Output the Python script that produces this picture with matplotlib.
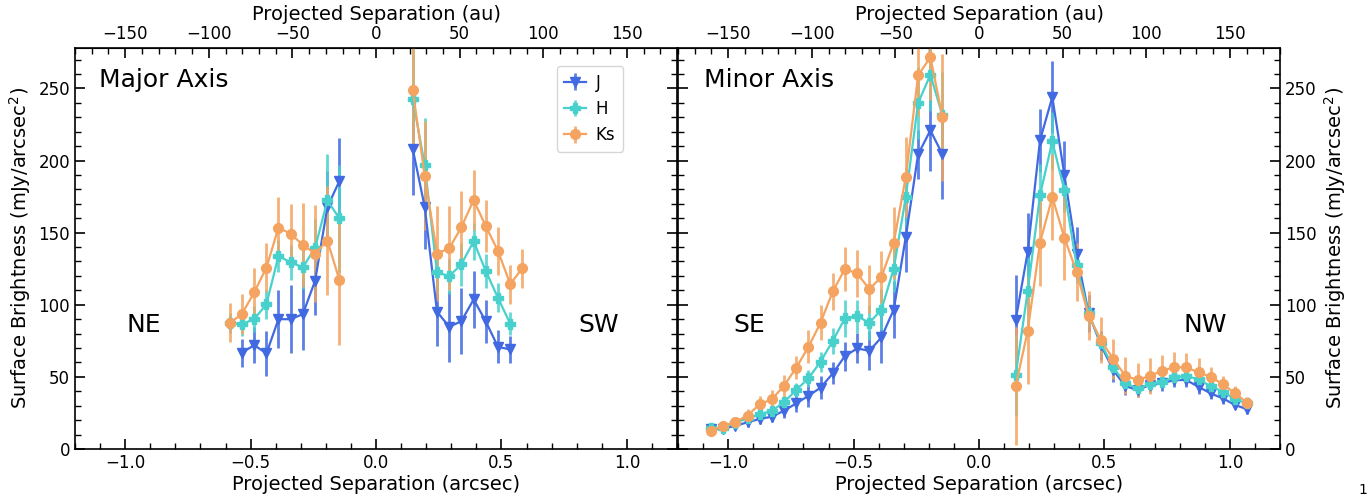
import numpy as np
import matplotlib
matplotlib.use("Agg")
import matplotlib.pyplot as plt
from matplotlib.ticker import MultipleLocator

# separations of the annuli (arcsec), same on both sides of the star
sep_major = [0.146, 0.194, 0.243, 0.292, 0.340, 0.389, 0.437, 0.486, 0.535, 0.583]
sep_minor = [0.146, 0.194, 0.243, 0.292, 0.340, 0.389, 0.437, 0.486, 0.535, 0.583,
             0.632, 0.680, 0.729, 0.778, 0.826, 0.875, 0.923, 0.972, 1.021, 1.069]
AU_PER_ARCSEC = 150.0

# --- Major axis, NE side (inner -> outer) ---
ne_J = [185.8, 167.8, 116.6, 93.5, 90, 90, 66.3, 72, 66.7]
ne_J_err = [30, 25, 24, 25, 23.6, 20, 15.5, 12.7, 9.7]
ne_H = [159.8, 172.4, 139.4, 126, 129.3, 133.9, 100.4, 90, 86.6, 87.5]
ne_H_err = [37, 32, 20, 15, 12, 11, 10, 9, 8, 7]
ne_Ks = [117, 144.5, 135.5, 141.5, 149.1, 153.5, 125.8, 108.5, 93.5, 87.5]
ne_Ks_err = [45, 37.5, 33.7, 29, 21, 21, 17.3, 16.8, 13.9, 13.4]

# --- Major axis, SW side ---
sw_J = [208.2, 167.8, 95.1, 84.7, 88.6, 103.7, 88.6, 70.8, 69]
sw_J_err = [32, 29, 24, 24.5, 23, 20, 15, 11.5, 9.5]
sw_H = [242.9, 196.7, 122.4, 119.8, 128.1, 144, 123.5, 104.8, 86.8]
sw_H_err = [38, 33, 14, 12, 15, 13, 12, 10, 8]
sw_Ks = [249.1, 189.5, 135.5, 139.2, 153.7, 172.6, 154.6, 137.3, 114.3, 125.3]
sw_Ks_err = [40, 38, 33, 29, 25, 21, 18, 16.7, 13.5, 13.5]

# --- Minor axis, SE side ---
se_J = [204.3, 220.9, 204.3, 147, 96.7, 77.4, 68.1, 69.7, 64.4, 52.4,
        42.5, 36.9, 31.6, 26.5, 22.4, 20.8, 18.5, 16.1, 13.9, 13.9]
se_J_err = [31, 28, 17, 24, 20, 18, 13.5, 10.4, 10, 7.6, 8, 8, 6, 5, 4, 3.5, 3, 2.5, 2, 2]
se_H = [231.3, 259.5, 239.8, 174.7, 125.1, 96.7, 87.5, 92.1, 90.5, 75,
        60.5, 49, 40.9, 32.3, 26.5, 24, 21.3, 18.2, 14.3, 14.3]
se_H_err = [30, 25, 25, 20, 16, 14, 12, 11.5, 12.7, 9, 7, 6, 5, 4, 3.5, 3, 2.5, 2.5, 2, 2]
se_Ks = [230.1, 271.7, 259, 188.6, 143.1, 119.3, 110.8, 121.7, 124.7, 109.2,
         87.5, 70.8, 56.3, 43.8, 34.4, 31, 23.1, 18.9, 15.9, 12.7]
se_Ks_err = [44, 30, 28, 28, 25, 18, 16.6, 16, 15, 13, 12, 11.5, 8, 7.5, 6.3, 6, 4.5, 3.5, 3, 3]

# --- Minor axis, NW side ---
nw_J = [89.3, 136.6, 214, 244, 190.2, 135.5, 94, 72, 54.7, 43.6,
        40.9, 44.3, 45.5, 47.8, 47.8, 43.1, 38.6, 35.1, 30.5, 27.5]
nw_J_err = [31, 27, 22, 25, 23.5, 18.5, 13, 10, 8, 6, 5, 5, 5, 5, 5, 5, 4, 4, 3, 3]
nw_H = [51.2, 109.6, 175.9, 213.3, 179.4, 127.4, 94, 73.2, 56.6, 45.5,
        42, 44.8, 46.6, 49.7, 50.6, 48.3, 43.6, 39.7, 34.4, 31.6]
nw_H_err = [28, 25, 22, 20, 15, 12, 9, 7, 6, 5, 4, 4, 4, 4, 4, 4, 3.5, 3, 3, 2.5]
nw_Ks = [43.6, 81.9, 143.1, 174.7, 146.6, 122.8, 92.3, 75.5, 62.3, 50.8,
         47.8, 50.6, 54.2, 56.6, 56.6, 53.1, 50.1, 44.8, 38.6, 32.1]
nw_Ks_err = [41, 37, 30, 29.5, 29.5, 20, 17, 16, 14, 13, 11.5, 12.7, 11, 10.4, 10, 10, 7, 6, 5, 4]

bands = ["J", "H", "Ks"]
colors = {"J": "royalblue", "H": "mediumturquoise", "Ks": "sandybrown"}
markers = {"J": "v", "H": "P", "Ks": "o"}

plt.rcParams["font.family"] = "DejaVu Sans"

fig = plt.figure(figsize=(13.67, 5.0), dpi=100)
ax1 = fig.add_axes([0.0549, 0.102, 0.4404, 0.802])
ax2 = fig.add_axes([0.4960, 0.102, 0.4404, 0.802])


def draw_side(ax, sep, vals, errs, band, sign, label=None):
    n = len(vals)
    x = sign * np.array(sep[:n])
    eb = ax.errorbar(x, vals, yerr=errs, color=colors[band], marker=markers[band],
                     ms=7, lw=1.6, elinewidth=2.0, capsize=0, label=label)
    for c in eb[2]:
        c.set_alpha(0.85)


def style_axis(ax, side):
    ax.set_xlim(-1.2, 1.2)
    ax.set_ylim(0, 278)
    ax.xaxis.set_major_locator(MultipleLocator(0.5))
    ax.xaxis.set_minor_locator(MultipleLocator(0.1))
    ax.yaxis.set_major_locator(MultipleLocator(50))
    ax.yaxis.set_minor_locator(MultipleLocator(10))
    ax.tick_params(which="both", direction="in", top=False, right=True, left=True,
                   labelsize=12)
    ax.tick_params(which="major", length=7, width=1.2)
    ax.tick_params(which="minor", length=4, width=1.0)
    ax.set_xlabel("Projected Separation (arcsec)", fontsize=14, labelpad=2)
    if side == "right":
        ax.yaxis.tick_right()
        ax.yaxis.set_label_position("right")
        ax.tick_params(which="both", left=True, right=True)
    ax.set_ylabel("Surface Brightness (mJy/arcsec$^2$)", fontsize=14)
    sec = ax.secondary_xaxis("top", functions=(lambda a: a * AU_PER_ARCSEC,
                                               lambda b: b / AU_PER_ARCSEC))
    sec.xaxis.set_major_locator(MultipleLocator(50))
    sec.xaxis.set_minor_locator(MultipleLocator(10))
    sec.tick_params(which="both", direction="in", labelsize=12)
    sec.tick_params(which="major", length=7, width=1.2)
    sec.tick_params(which="minor", length=4, width=1.0)
    sec.set_xlabel("Projected Separation (au)", fontsize=14, labelpad=4)
    for s in ax.spines.values():
        s.set_linewidth(1.2)


major = {"J": (ne_J, ne_J_err, sw_J, sw_J_err),
         "H": (ne_H, ne_H_err, sw_H, sw_H_err),
         "Ks": (ne_Ks, ne_Ks_err, sw_Ks, sw_Ks_err)}
minor = {"J": (se_J, se_J_err, nw_J, nw_J_err),
         "H": (se_H, se_H_err, nw_H, nw_H_err),
         "Ks": (se_Ks, se_Ks_err, nw_Ks, nw_Ks_err)}

for b in bands:
    v1, e1, v2, e2 = major[b]
    draw_side(ax1, sep_major, v1, e1, b, -1, label=b)
    draw_side(ax1, sep_major, v2, e2, b, 1)
    v1, e1, v2, e2 = minor[b]
    draw_side(ax2, sep_minor, v1, e1, b, -1)
    draw_side(ax2, sep_minor, v2, e2, b, 1)

style_axis(ax1, "left")
style_axis(ax2, "right")

ax1.legend(loc="upper right", bbox_to_anchor=(0.91, 0.955), borderaxespad=0,
           fontsize=12, handlelength=1.3, handletextpad=0.6, borderpad=0.45,
           labelspacing=0.5)

ax1.text(0.04, 0.92, "Major Axis", transform=ax1.transAxes, fontsize=18, va="center")
ax2.text(0.043, 0.92, "Minor Axis", transform=ax2.transAxes, fontsize=18, va="center")
ax1.text(-0.925, 86, "NE", fontsize=18, ha="center", va="center")
ax1.text(0.887, 86, "SW", fontsize=18, ha="center", va="center")
ax2.text(-0.915, 86, "SE", fontsize=18, ha="center", va="center")
ax2.text(0.9, 86, "NW", fontsize=18, ha="center", va="center")

fig.text(0.997, 0.02, "1", fontsize=10, ha="center", va="center")

fig.savefig("out.png", dpi=100)
